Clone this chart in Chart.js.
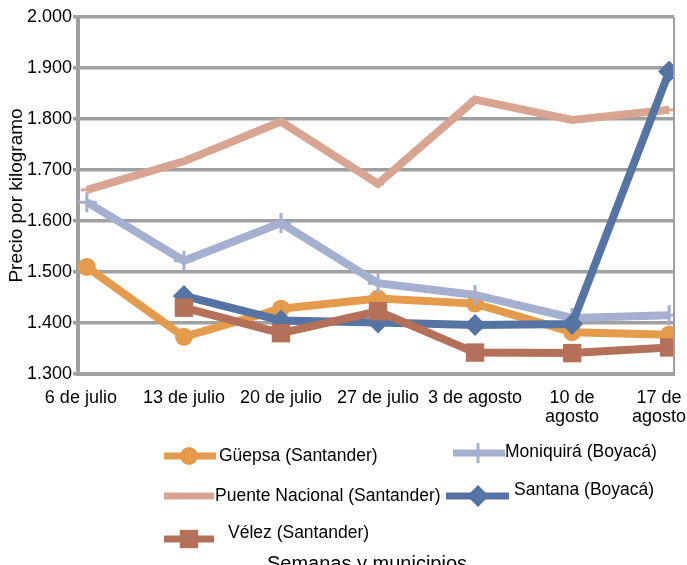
<!DOCTYPE html>
<html>
<head>
<meta charset="utf-8">
<script src="https://cdn.jsdelivr.net/npm/chart.js@4"></script>
<style>
  html, body { margin: 0; padding: 0; background: #fff; }
  #wrap { width: 687px; height: 565px; }
</style>
</head>
<body>
<div id="wrap"><canvas id="chart" width="687" height="565"></canvas></div>
<script>
// Weeks (x categories)
const weeks = ['6 de julio', '13 de julio', '20 de julio', '27 de julio', '3 de agosto', ['10 de', 'agosto'], ['17 de', 'agosto']];

// Price per kilogram by municipality
const guepsa    = [1510, 1373, 1428, 1448, 1438, 1382, 1377];
const moniquira = [1637, 1522, 1596, 1478, 1455, 1410, 1415];
const puente    = [1661, 1717, 1795, 1673, 1838, 1798, 1818];
const santana   = [null, 1453, 1405, 1401, 1396, 1398, 1893];
const velez     = [null, 1430, 1380, 1423, 1342, 1341, 1352];

const yTicks = [1300, 1400, 1500, 1600, 1700, 1800, 1900, 2000];

const FONT = '"Liberation Sans", Arial, sans-serif';

function fmt(v) {
    const s = String(Math.round(v));
    return s.slice(0, s.length - 3) + '.' + s.slice(-3);
}

function toPoints(arr) {
    return arr.map((v, i) => ({ x: i, y: v }));
}

function series(label, values, color, style, radius, order) {
    return {
        label: label,
        data: toPoints(values),
        borderColor: color,
        backgroundColor: color,
        borderWidth: 8,
        pointStyle: style,
        pointRadius: radius,
        pointBorderWidth: style === 'cross' || style === 'line' ? 3 : 0,
        pointBackgroundColor: color,
        pointBorderColor: color,
        tension: 0,
        order: order
    };
}

const datasets = [
    series('Güepsa (Santander)', guepsa, '#e49b4c', 'circle', 9, 5),
    series('Moniquirá (Boyacá)', moniquira, '#a5afd0', 'cross', 10, 4),
    series('Puente Nacional (Santander)', puente, '#d9a593', 'line', 6, 3),
    series('Santana (Boyacá)', santana, '#5674a3', 'rectRot', 11, 2),
    series('Vélez (Santander)', velez, '#b5705a', 'rect', 13, 1)
];

// legend slots (2 columns, like the original)
const legendSlots = [
    { ds: 0, x1: 164, x2: 216, y: 456, mx: 189, tx: 219, ty: 456 },
    { ds: 1, x1: 453, x2: 505, y: 453, mx: 478, tx: 505, ty: 452 },
    { ds: 2, x1: 164, x2: 214, y: 496, mx: 189, tx: 215, ty: 496 },
    { ds: 3, x1: 446, x2: 509, y: 496, mx: 478, tx: 514, ty: 490 },
    { ds: 4, x1: 164, x2: 214, y: 539, mx: 189, tx: 228, ty: 533 }
];

const extras = {
    id: 'extras',
    afterDraw(chart) {
        const ctx = chart.ctx;
        const a = chart.chartArea;
        const xs = chart.scales.x;
        ctx.save();

        // right frame line
        ctx.strokeStyle = '#a0a0a0';
        ctx.lineWidth = 2;
        ctx.beginPath();
        ctx.moveTo(a.right, a.top);
        ctx.lineTo(a.right, a.bottom);
        ctx.stroke();

        // week labels
        ctx.font = '18px ' + FONT;
        ctx.fillStyle = '#000';
        ctx.textAlign = 'center';
        ctx.textBaseline = 'middle';
        weeks.forEach((lab, i) => {
            const lines = Array.isArray(lab) ? lab : [lab];
            const w = Math.max(...lines.map(l => ctx.measureText(l).width));
            let cx = xs.getPixelForValue(i);
            if (i === 0) cx -= 6;
            cx = Math.min(cx, chart.width - 1 - w / 2);
            lines.forEach((l, k) => ctx.fillText(l, cx, 398 + k * 19));
        });

        // legend
        legendSlots.forEach(s => {
            const ds = chart.data.datasets[s.ds];
            ctx.strokeStyle = ds.borderColor;
            ctx.fillStyle = ds.borderColor;
            ctx.lineWidth = 7;
            ctx.beginPath();
            ctx.moveTo(s.x1, s.y);
            ctx.lineTo(s.x2, s.y);
            ctx.stroke();
            ctx.lineWidth = ds.pointBorderWidth || 1;
            Chart.helpers.drawPoint(ctx, {
                pointStyle: ds.pointStyle,
                radius: ds.pointRadius,
                rotation: 0,
                borderWidth: ds.pointBorderWidth
            }, s.mx, s.y);
            ctx.fillStyle = '#000';
            ctx.font = '17.5px ' + FONT;
            ctx.textAlign = 'left';
            ctx.textBaseline = 'middle';
            ctx.fillText(ds.label, s.tx, s.ty);
        });

        // x title
        ctx.font = '20px ' + FONT;
        ctx.textAlign = 'center';
        ctx.fillText('Semanas y municipios', 367, 564);
        ctx.restore();
    }
};

new Chart(document.getElementById('chart'), {
    type: 'line',
    data: { datasets: datasets },
    options: {
        responsive: false,
        animation: false,
        devicePixelRatio: 1,
        layout: { padding: { top: 17, left: 0, right: 5, bottom: 0 } },
        plugins: {
            legend: { display: false },
            tooltip: { enabled: false }
        },
        scales: {
            x: {
                type: 'linear',
                min: -0.0915,
                max: 6.05,
                grid: { display: false },
                border: { display: true, color: '#a0a0a0', width: 4 },
                ticks: { display: false },
                afterFit(s) {
                    s.height = 565 - 374;
                    s.paddingLeft = 0;
                    s.paddingRight = 0;
                }
            },
            y: {
                min: 1300,
                max: 2000,
                afterBuildTicks(s) {
                    s.ticks = yTicks.map(v => ({ value: v }));
                },
                grid: { color: '#a0a0a0', lineWidth: 3.5, tickLength: 5 },
                border: { color: '#a0a0a0', width: 4 },
                ticks: {
                    color: '#000',
                    padding: 1,
                    font: { family: FONT, size: 18 },
                    callback: v => fmt(v)
                },
                title: {
                    display: true,
                    text: 'Precio por kilogramo',
                    color: '#000',
                    font: { family: FONT, size: 19 },
                    padding: { top: 5, bottom: 0 }
                },
                afterFit(s) {
                    s.width = 78;
                    s.paddingTop = 0;
                    s.paddingBottom = 0;
                }
            }
        }
    },
    plugins: [extras]
});
</script>
</body>
</html>
